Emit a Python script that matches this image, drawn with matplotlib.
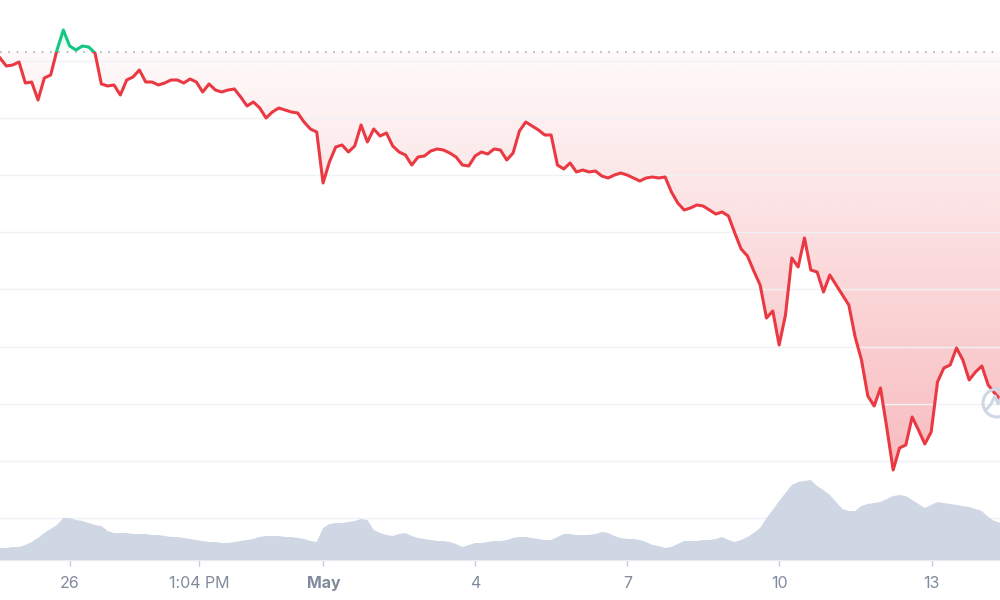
import matplotlib
matplotlib.use('Agg')
import matplotlib.pyplot as plt
import matplotlib.dates as mdates
import matplotlib.patches as patches
import matplotlib.colors as mcolors
import numpy as np
import pandas as pd

plt.rcParams['font.family'] = ['Inter', 'DejaVu Sans']

# --- data (price in chart units, one sample every 3 hours) ---
start = pd.Timestamp('2022-04-24 14:50')
end = start + pd.Timedelta(hours=473.6)
step_hours = 3

price = [
    542, 534, 535, 538, 517, 518, 500, 522, 525, 550,
    570, 554, 550, 554, 553, 547, 516, 514, 515, 505,
    520, 523, 530, 518, 518, 515, 517, 520, 520, 517,
    521, 518, 508, 516, 510, 508, 510, 511, 503, 494,
    498, 492, 482, 488, 492, 490, 488, 487, 478, 471,
    468, 417, 438, 453, 455, 448, 454, 475, 458, 471,
    464, 467, 454, 448, 445, 435, 443, 444, 449, 451,
    450, 447, 443, 435, 434, 444, 448, 446, 451, 450,
    440, 447, 469, 478, 474, 470, 465, 465, 435, 431,
    437, 428, 430, 428, 429, 424, 422, 425, 427, 425,
    422, 419, 422, 423, 422, 423, 408, 397, 390, 392,
    395, 394, 390, 386, 388, 384, 367, 351, 344, 329,
    315, 282, 289, 255, 285, 342, 333, 362, 330, 328,
    308, 325, 315, 305, 295, 263, 240, 204, 194, 212,
    172, 130, 152, 155, 183, 170, 156, 168, 218, 232,
    235, 252, 240, 220, 228, 234, 215, 207, 200,
]

volume = [
    12, 12, 13, 13, 15, 18, 22, 27, 31, 35,
    42, 42, 40, 39, 37, 35, 34, 29, 27, 27,
    27, 26, 26, 26, 25, 25, 24, 23, 23, 22,
    21, 20, 19, 18, 18, 17, 17, 18, 19, 20,
    21, 23, 24, 24, 24, 23, 23, 22, 21, 19,
    18, 32, 36, 37, 37, 38, 39, 41, 40, 30,
    27, 25, 24, 26, 27, 24, 22, 21, 20, 19,
    19, 18, 16, 13, 15, 17, 17, 18, 19, 19,
    20, 22, 23, 23, 22, 21, 20, 20, 23, 26,
    26, 25, 25, 25, 26, 28, 27, 24, 22, 21,
    21, 20, 18, 15, 14, 12, 13, 16, 19, 19,
    19, 20, 20, 21, 23, 20, 18, 20, 23, 27,
    32, 42, 50, 59, 67, 75, 78, 79, 80, 74,
    70, 65, 58, 51, 49, 49, 54, 56, 57, 58,
    61, 64, 65, 64, 60, 56, 52, 55, 58, 57,
    56, 55, 54, 53, 51, 49, 43, 39, 37,
]

base_price = 548
grid_levels = [82, 139, 196, 253, 311, 368, 425, 482, 539]

tick_dates = ['2022-04-26 00:00', '2022-04-28 13:04', '2022-05-01 00:00', '2022-05-04 00:00',
              '2022-05-07 00:00', '2022-05-10 00:00', '2022-05-13 00:00']
tick_labels = ['26', '1:04 PM', 'May', '4', '7', '10', '13']

# colours
RED = '#ea3943'
GREEN = '#16c784'
GRID = '#eff2f5'
VOL = '#cfd6e4'
TXT = '#808a9d'

times = pd.date_range(start, periods=len(price), freq=f'{step_hours}h')
t = mdates.date2num(times.to_pydatetime())
p = np.array(price, dtype=float)
v = np.array(volume, dtype=float)
x0, x1 = mdates.date2num(start.to_pydatetime()), mdates.date2num(end.to_pydatetime())

fig = plt.figure(figsize=(10, 6), dpi=100)
ax = fig.add_axes([0, 40 / 600, 1, 560 / 600])
ax.set_facecolor('white')

# gridlines
for g in grid_levels:
    ax.axhline(g, color=GRID, lw=1, zorder=2)

# baseline (opening price)
ax.axhline(base_price, color='#a6b0c3', lw=1.2, ls=(0, (1, 4)), zorder=3)

# red gradient fill below baseline
low = p.min()
red_poly = ax.fill_between(t, np.minimum(p, base_price), base_price,
                           facecolor='none', edgecolor='none')
grad = np.zeros((256, 1, 4))
grad[:, 0, :3] = mcolors.to_rgb(RED)
grad[:, 0, 3] = np.linspace(0.03, 0.34, 256)
im = ax.imshow(grad, extent=(x0, x1, low, base_price), aspect='auto',
               origin='upper', zorder=1)
im.set_clip_path(red_poly.get_paths()[0], ax.transData)

# green gradient fill above baseline
green_poly = ax.fill_between(t, np.maximum(p, base_price), base_price,
                             facecolor='none', edgecolor='none')
grad_g = np.zeros((256, 1, 4))
grad_g[:, 0, :3] = mcolors.to_rgb(GREEN)
grad_g[:, 0, 3] = np.linspace(0.18, 0.02, 256)
im_g = ax.imshow(grad_g, extent=(x0, x1, base_price, p.max()), aspect='auto',
                 origin='upper', zorder=1)
im_g.set_clip_path(green_poly.get_paths()[0], ax.transData)

# price line, coloured by side of baseline
red_line, = ax.plot(t, p, color=RED, lw=2.2, zorder=5, solid_joinstyle='round')
green_line, = ax.plot(t, p, color=GREEN, lw=2.2, zorder=6, solid_joinstyle='round')
clip_below = patches.Rectangle((x0, 0), x1 - x0, base_price, transform=ax.transData)
clip_above = patches.Rectangle((x0, base_price), x1 - x0, 1000, transform=ax.transData)
red_line.set_clip_path(clip_below)
green_line.set_clip_path(clip_above)

ax.set_xlim(x0, x1)
ax.set_ylim(40, 600)
ax.set_yticks([])
for s in ['top', 'left', 'right']:
    ax.spines[s].set_visible(False)
ax.spines['bottom'].set_color('#e8ecf1')
ax.spines['bottom'].set_linewidth(1)

ax.set_xticks(mdates.date2num(pd.to_datetime(tick_dates).to_pydatetime()))
ax.set_xticklabels(tick_labels)
ax.tick_params(axis='x', length=4.5, width=1, color='#c5ccd8', pad=7,
               labelsize=11.5, labelcolor=TXT)
for lab in ax.get_xticklabels():
    if lab.get_text() == 'May':
        lab.set_fontweight('bold')

# volume area
ax2 = ax.twinx()
ax2.fill_between(t, v, 0, color=VOL, lw=0, zorder=2)
ax2.set_ylim(0, 560)
ax2.set_xlim(x0, x1)
ax2.set_yticks([])
for s in ax2.spines.values():
    s.set_visible(False)

# watermark logo (partly off the right edge)
logo = patches.Circle((997, 600 - 403), 14, transform=None, fill=False,
                      ec='#cfd6e4', lw=2.2)
fig.add_artist(logo)
wx = np.array([986, 991, 995, 998, 1002, 1006])
wy = 600 - np.array([410, 404, 396, 404, 396, 400])
fig.add_artist(plt.Line2D(wx, wy, transform=None, color='#cfd6e4', lw=2.2,
                          solid_joinstyle='round', solid_capstyle='round'))

fig.savefig('out.png', dpi=100, facecolor='white')
